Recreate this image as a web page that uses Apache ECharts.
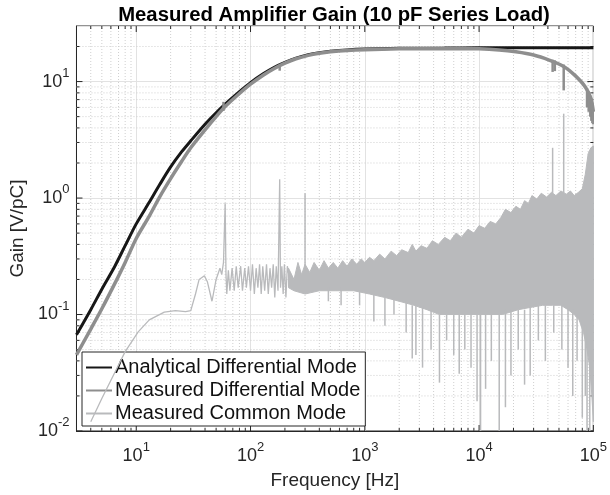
<!DOCTYPE html>
<html>
<head>
<meta charset="utf-8">
<script src="https://cdn.jsdelivr.net/npm/echarts@6/dist/echarts.min.js"></script>
<style>
html,body{margin:0;padding:0;background:#fff}
#chart{width:610px;height:495px}
</style>
</head>
<body>
<div id="chart"></div>
<script>
// values: [frequency Hz, gain V/pC]
const analytical = [[3,0.067],[4,0.11],[5,0.165],[6.5,0.26],[8,0.39],[10,0.6],[13,0.92],[16,1.3],[20,1.85],[25,2.5],[30,3.1],[40,4.3],[50,5.4],[60,6.4],[80,8.2],[100,9.8],[130,11.7],[160,13.2],[200,14.6],[250,15.9],[320,17.0],[400,17.7],[500,18.2],[700,18.7],[1000,19.0],[2000,19.3],[5000,19.4],[10000,19.5],[100000,19.5]];

const measuredDiff = [[3,0.045],[4,0.075],[5,0.112],[6.5,0.185],[8,0.28],[10,0.45],[13,0.7],[16,1.02],[20,1.47],[25,2.07],[30,2.7],[40,3.85],[50,5.0],[60,6.1],[80,7.9],[100,9.5],[130,11.4],[160,12.9],[200,14.4],[250,15.7],[320,16.8],[400,17.5],[500,18.0],[700,18.5],[1000,18.8],[2000,19.1],[5000,19.2],[10000,19.1],[15000,18.7],[21000,18.0],[30000,16.9],[41000,15.3],[55000,13.5],[69000,11.3],[85000,9.0],[95000,7.2],[100000,5.5]];

// [frequency, low, high] short vertical excursions of the measured differential trace
const diffSpikes = [[58,5.6,6.7],[180,12.4,13.8],[44000,12.1,15.4],[46000,12.3,15.2],[55000,8.4,14.0],[88000,6.0,8.6],[91000,5.5,8.2],[94000,5.0,7.6],[96000,4.6,7.2],[98000,4.4,6.6],[99500,4.3,6.0]];

// common mode, low-frequency part drawn as a line
const commonLine = [[4,0.012],[5,0.019],[6.3,0.03],[8,0.048],[10.4,0.071],[13,0.09],[17.6,0.105],[22,0.108],[27,0.106],[30,0.108],[33,0.15],[35.5,0.2],[39.5,0.215],[42,0.19],[46,0.13],[50,0.2],[54,0.25],[56,0.22],[58,0.28],[60,0.9],[61,0.22],[62,0.15],[64,0.24],[66,0.16],[69,0.25],[72,0.16],[75,0.26],[78,0.17],[82,0.26],[85,0.16],[89,0.25],[92,0.17],[96,0.26],[100,0.16],[104,0.27],[108,0.15],[112,0.25],[116,0.17],[120,0.27],[124,0.15],[128,0.26],[133,0.16],[138,0.27],[143,0.15],[148,0.25],[153,0.17],[158,0.27],[163,0.14],[168,0.26],[174,0.16],[180,1.45],[183,0.17],[188,0.26],[193,0.15],[198,0.27],[204,0.14],[210,0.26],[220,0.2]];

// common mode, dense noise band: upper and lower edge
const bandUpper = [[215,0.25],[240,0.2],[260,0.28],[280,0.22],[300,0.27],[330,0.23],[360,0.28],[400,0.24],[440,0.29],[480,0.25],[530,0.28],[580,0.25],[640,0.29],[700,0.26],[770,0.3],[850,0.27],[930,0.3],[1000,0.28],[1100,0.31],[1200,0.29],[1350,0.33],[1500,0.3],[1700,0.35],[1900,0.32],[2100,0.36],[2400,0.34],[2600,0.4],[2800,0.35],[3100,0.39],[3500,0.37],[3900,0.43],[4400,0.4],[5000,0.46],[5600,0.43],[6300,0.5],[7000,0.46],[8000,0.54],[9000,0.5],[10000,0.58],[11200,0.55],[12500,0.63],[14000,0.6],[15500,0.68],[17000,0.8],[19000,0.75],[21000,0.85],[23000,0.8],[25000,0.95],[27000,0.9],[29000,1.05],[32000,0.98],[35000,1.1],[39000,1.02],[43000,1.12],[47000,1.05],[52000,1.15],[58000,1.08],[63000,1.15],[68000,1.05],[74000,1.12],[80000,1.2],[85000,1.6],[90000,2.4],[95000,2.7],[100000,2.8]];
const bandLower = [[100000,0.012],[97000,0.02],[93000,0.035],[88000,0.05],[82000,0.07],[75000,0.09],[68000,0.1],[60000,0.11],[52000,0.12],[44000,0.12],[36000,0.12],[28000,0.115],[22000,0.11],[16000,0.1],[12000,0.1],[8500,0.1],[6000,0.1],[4500,0.1],[3500,0.11],[2700,0.12],[2000,0.13],[1500,0.14],[1100,0.15],[800,0.16],[550,0.16],[400,0.16],[300,0.15],[240,0.16],[215,0.17]];

// [frequency, low, high] isolated spikes of the common mode trace
const commonSpikes = [[300,0.25,1.1],[44000,1.1,2.7],[55000,1.1,5.3],[480,0.13,0.17],[620,0.12,0.17],[900,0.12,0.16],[1200,0.087,0.15],[1500,0.08,0.14],[1800,0.1,0.14],[2300,0.07,0.13],[2600,0.042,0.12],[2800,0.045,0.12],[3200,0.035,0.12],[3800,0.05,0.11],[4500,0.026,0.1],[5200,0.06,0.1],[6000,0.045,0.1],[6700,0.031,0.1],[7500,0.05,0.1],[8500,0.035,0.1],[9600,0.018,0.1],[10300,0.01,0.1],[11400,0.023,0.1],[12800,0.04,0.1],[15000,0.01,0.1],[17000,0.016,0.11],[19000,0.03,0.11],[22000,0.05,0.11],[25000,0.025,0.11],[28000,0.03,0.12],[33000,0.06,0.12],[38000,0.04,0.12],[45000,0.07,0.12],[53000,0.05,0.12],[60000,0.035,0.11],[66000,0.02,0.11],[72000,0.04,0.1],[80000,0.013,0.09],[85000,0.02,0.08],[88000,0.01,0.08],[93000,0.01,0.07]];

const xRange = [3, 1e5];
const yRange = [0.01, 30];

const C = {black:'#171717', diff:'#8e8e8e', common:'#b9babc', axis:'#262626', grid:'#e2e2e2', minor:'#cfcfcf'};
const FONT = '"Liberation Sans", Arial, sans-serif';

// decade labels as 10^n
const isDecade = v => Math.abs(Math.log10(v) - Math.round(Math.log10(v))) < 1e-6;
const powLabel = v => isDecade(v) ? '{b|10}{s|' + Math.round(Math.log10(v)) + '}' : '';
const labelRich = {
  b:{fontSize:18, color:C.axis, fontFamily:FONT, lineHeight:30},
  s:{fontSize:13, color:C.axis, fontFamily:FONT, verticalAlign:'top', lineHeight:16}
};

// minor grid positions 2..9 x 10^k inside a range
function minors(r){
  const out = [];
  for (let k = Math.floor(Math.log10(r[0])); k <= Math.ceil(Math.log10(r[1])); k++)
    for (let m = 2; m <= 9; m++){ const v = m*Math.pow(10,k); if (v > r[0]*1.001 && v < r[1]*0.999) out.push(v); }
  return out;
}
function decades(r){
  const out = [];
  for (let k = Math.ceil(Math.log10(r[0])); k <= Math.floor(Math.log10(r[1])); k++) out.push(Math.pow(10,k));
  return out;
}

// minor grid + ticks on all four sides (matlab style box)
function frameItem(params, api){
  const ch = [];
  const seg = (a,b,st) => ch.push({type:'line', shape:{x1:a[0],y1:a[1],x2:b[0],y2:b[1]}, style:st});
  const dotted = {stroke:C.minor, lineWidth:1, lineDash:[1,2]};
  const tk = {stroke:C.axis, lineWidth:1};
  minors(xRange).forEach(v => {
    const p = api.coord([v, yRange[0]]), q = api.coord([v, yRange[1]]);
    seg(p, q, dotted); seg(p, [p[0], p[1]-3], tk); seg(q, [q[0], q[1]+3], tk);
  });
  minors(yRange).forEach(v => {
    const p = api.coord([xRange[0], v]), q = api.coord([xRange[1], v]);
    seg(p, q, dotted); seg(p, [p[0]+3, p[1]], tk); seg(q, [q[0]-3, q[1]], tk);
  });
  decades(xRange).forEach(v => {
    const p = api.coord([v, yRange[0]]), q = api.coord([v, yRange[1]]);
    seg(p, [p[0], p[1]-6], tk); seg(q, [q[0], q[1]+6], tk);
  });
  decades(yRange).forEach(v => {
    const p = api.coord([xRange[0], v]), q = api.coord([xRange[1], v]);
    seg(p, [p[0]+6, p[1]], tk); seg(q, [q[0]-6, q[1]], tk);
  });
  return {type:'group', children:ch};
}

function bandItem(params, api){
  const pts = bandUpper.concat(bandLower).map(p => api.coord(p));
  return {type:'polygon', shape:{points:pts}, style:{fill:C.common, stroke:C.common, lineWidth:1}};
}

const spikeItem = (color, w) => (params, api) => {
  const p = api.coord([api.value(0), api.value(1)]), q = api.coord([api.value(0), api.value(2)]);
  return {type:'line', shape:{x1:p[0],y1:p[1],x2:q[0],y2:q[1]}, style:{stroke:color, lineWidth:w}};
};

const chart = echarts.init(document.getElementById('chart'), null, {renderer:'canvas'});
chart.setOption({
  animation:false,
  backgroundColor:'#fff',
  textStyle:{fontFamily:FONT},
  title:{text:'Measured Amplifier Gain (10 pF Series Load)', left:329, top:0, textAlign:'center',
    textStyle:{fontSize:20.3, fontWeight:'bold', color:'#000', fontFamily:FONT}},
  grid:{left:76, right:16, top:26, bottom:64, show:true, borderColor:C.axis, borderWidth:1, backgroundColor:'#fff'},
  legend:{orient:'vertical', left:82, top:352, data:['Analytical Differential Mode','Measured Differential Mode','Measured Common Mode'],
    backgroundColor:'#fff', borderColor:C.axis, borderWidth:1, borderRadius:0, padding:[5,5,2,3],
    itemWidth:26, itemHeight:14, itemGap:2, itemStyle:{opacity:0},
    textStyle:{fontSize:20, color:'#111', fontFamily:FONT, lineHeight:21, padding:[0,0,0,-2]}},
  xAxis:{type:'log', logBase:10, min:xRange[0], max:xRange[1],
    name:'Frequency [Hz]', nameLocation:'middle', nameGap:40,
    nameTextStyle:{fontSize:19, color:C.axis, fontFamily:FONT},
    axisLine:{lineStyle:{color:C.axis}}, axisTick:{show:false},
    axisLabel:{formatter:powLabel, rich:labelRich, margin:10},
    splitLine:{show:true, lineStyle:{color:C.grid, width:1}}},
  yAxis:{type:'log', logBase:10, min:yRange[0], max:yRange[1],
    name:'Gain [V/pC]', nameLocation:'middle', nameGap:48, nameRotate:90,
    nameTextStyle:{fontSize:19, color:C.axis, fontFamily:FONT},
    axisLine:{lineStyle:{color:C.axis}}, axisTick:{show:false},
    axisLabel:{formatter:powLabel, rich:labelRich, margin:7},
    splitLine:{show:true, lineStyle:{color:C.grid, width:1}}},
  series:[
    {type:'custom', name:'frame', renderItem:frameItem, data:[[xRange[0], yRange[0]]], silent:true, z:1},
    {type:'line', name:'Analytical Differential Mode', data:analytical, symbol:'none', smooth:0.3,
      lineStyle:{color:C.black, width:3}, itemStyle:{color:C.black}, z:2},
    {type:'line', name:'Measured Differential Mode', data:measuredDiff, symbol:'none', smooth:0.3,
      lineStyle:{color:C.diff, width:3.5}, itemStyle:{color:C.diff}, z:3},
    {type:'custom', name:'diffSpikes', renderItem:spikeItem(C.diff, 2.5), data:diffSpikes, encode:{x:0, y:[1,2]}, clip:true, z:3},
    {type:'line', name:'Measured Common Mode', data:commonLine, symbol:'none',
      lineStyle:{color:C.common, width:1.3}, itemStyle:{color:C.common}, z:4},
    {type:'custom', name:'band', renderItem:bandItem, data:[bandUpper[0]], clip:true, z:4},
    {type:'custom', name:'commonSpikes', renderItem:spikeItem(C.common, 1.5), data:commonSpikes, encode:{x:0, y:[1,2]}, clip:true, z:4}
  ]
});
</script>
</body>
</html>
